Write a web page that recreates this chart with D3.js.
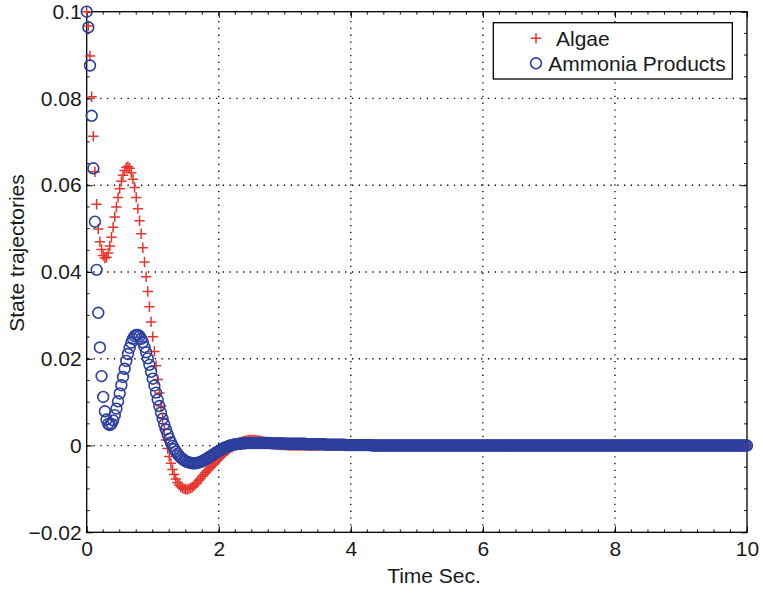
<!DOCTYPE html>
<html>
<head>
<meta charset="utf-8">
<script src="https://cdn.jsdelivr.net/npm/d3@7/dist/d3.min.js"></script>
<style>
  html, body { margin: 0; padding: 0; background: #fff; }
  svg { display: block; }
  text { font-family: "Liberation Sans", Arial, Helvetica, sans-serif; fill: #1a1a1a; }
</style>
</head>
<body>
<svg id="chart" width="763" height="595"></svg>
<script>
// Simulation output sampled every 0.025 s from t = 0 to t = 10 s (401 samples)
const timeStep = 0.025;

const algae = [
  0.1000, 0.0967, 0.0898, 0.0804, 0.0713, 0.0631, 0.0556, 0.0499, 0.0470, 0.0452,
  0.0438, 0.0432, 0.0434, 0.0444, 0.0460, 0.0480, 0.0503, 0.0527, 0.0550, 0.0572,
  0.0592, 0.0609, 0.0623, 0.0634, 0.0641, 0.0643, 0.0639, 0.0629, 0.0614, 0.0595,
  0.0572, 0.0546, 0.0518, 0.0488, 0.0456, 0.0423, 0.0389, 0.0355, 0.0320, 0.0285,
  0.0251, 0.0217, 0.0184, 0.0152, 0.0121, 0.0091, 0.0063, 0.0037, 0.0013, -0.0007,
  -0.0025, -0.0041, -0.0055, -0.0067, -0.0077, -0.0085, -0.0091, -0.0095, -0.0098, -0.0100,
  -0.0101, -0.0101, -0.0100, -0.0098, -0.0096, -0.0093, -0.0089, -0.0085, -0.0080, -0.0076,
  -0.0071, -0.0067, -0.0062, -0.0058, -0.0054, -0.0050, -0.0046, -0.0042, -0.0038, -0.0034,
  -0.0030, -0.0026, -0.0022, -0.0019, -0.0015, -0.0012, -0.0009, -0.0006, -0.0004, -0.0001,
  0.0001, 0.0003, 0.0005, 0.0007, 0.0008, 0.0010, 0.0011, 0.0012, 0.0013, 0.0013,
  0.0013, 0.0013, 0.0013, 0.0012, 0.0012, 0.0011, 0.0010, 0.0009, 0.0008, 0.0007,
  0.0006, 0.0005, 0.0004, 0.0004, 0.0003, 0.0002, 0.0002, 0.0001, 0.0001, 0.0001,
  0.0001, 0.0001, 0, 0, 0, 0, 0, 0, 0, 0, 0, 0, 0, 0, 0, 0, 0, 0, 0, 0,
  0, 0, 0, 0, 0, 0, 0, 0, 0, 0, 0, 0, 0, 0, 0, 0, 0, 0, 0, 0,
  0, 0, 0, 0, 0, 0, 0, 0, 0, 0, 0, 0, 0, 0, 0, 0, 0, 0, 0, 0,
  0, 0, 0, 0, 0, 0, 0, 0, 0, 0, 0, 0, 0, 0, 0, 0, 0, 0, 0, 0,
  0, 0, 0, 0, 0, 0, 0, 0, 0, 0, 0, 0, 0, 0, 0, 0, 0, 0, 0, 0,
  0, 0, 0, 0, 0, 0, 0, 0, 0, 0, 0, 0, 0, 0, 0, 0, 0, 0, 0, 0,
  0, 0, 0, 0, 0, 0, 0, 0, 0, 0, 0, 0, 0, 0, 0, 0, 0, 0, 0, 0,
  0, 0, 0, 0, 0, 0, 0, 0, 0, 0, 0, 0, 0, 0, 0, 0, 0, 0, 0, 0,
  0, 0, 0, 0, 0, 0, 0, 0, 0, 0, 0, 0, 0, 0, 0, 0, 0, 0, 0, 0,
  0, 0, 0, 0, 0, 0, 0, 0, 0, 0, 0, 0, 0, 0, 0, 0, 0, 0, 0, 0,
  0, 0, 0, 0, 0, 0, 0, 0, 0, 0, 0, 0, 0, 0, 0, 0, 0, 0, 0, 0,
  0, 0, 0, 0, 0, 0, 0, 0, 0, 0, 0, 0, 0, 0, 0, 0, 0, 0, 0, 0,
  0, 0, 0, 0, 0, 0, 0, 0, 0, 0, 0, 0, 0, 0, 0, 0, 0, 0, 0, 0,
  0, 0, 0, 0, 0, 0, 0, 0, 0, 0, 0, 0, 0, 0, 0, 0, 0, 0, 0, 0,
  0
];

const ammonia = [
  0.1000, 0.0964, 0.0876, 0.0760, 0.0639, 0.0516, 0.0405, 0.0306, 0.0226, 0.0160,
  0.0112, 0.0079, 0.0060, 0.0050, 0.0047, 0.0050, 0.0058, 0.0070, 0.0085, 0.0102,
  0.0120, 0.0139, 0.0158, 0.0177, 0.0195, 0.0211, 0.0225, 0.0237, 0.0246, 0.0252,
  0.0255, 0.0255, 0.0252, 0.0246, 0.0238, 0.0227, 0.0215, 0.0201, 0.0186, 0.0170,
  0.0154, 0.0138, 0.0122, 0.0106, 0.0091, 0.0076, 0.0062, 0.0049, 0.0037, 0.0026,
  0.0016, 0.0007, -0.0001, -0.0008, -0.0014, -0.0019, -0.0024, -0.0028, -0.0031, -0.0034,
  -0.0036, -0.0038, -0.0039, -0.0040, -0.0041, -0.0041, -0.0041, -0.0040, -0.0039, -0.0038,
  -0.0036, -0.0034, -0.0032, -0.0030, -0.0027, -0.0025, -0.0022, -0.0020, -0.0017, -0.0015,
  -0.0013, -0.0011, -0.0008, -0.0006, -0.0004, -0.0003, -0.0001, 0.0000, 0.0001, 0.0002,
  0.0003, 0.0003, 0.0004, 0.0004, 0.0005, 0.0005, 0.0005, 0.0006, 0.0006, 0.0006,
  0.0006, 0.0006, 0.0006, 0.0006, 0.0006, 0.0006, 0.0006, 0.0006, 0.0006, 0.0006,
  0.0006, 0.0006, 0.0005, 0.0005, 0.0005, 0.0005, 0.0005, 0.0005, 0.0005, 0.0005,
  0.0005, 0.0004, 0.0004, 0.0004, 0.0004, 0.0004, 0.0004, 0.0004, 0.0004, 0.0004,
  0.0004, 0.0004, 0.0004, 0.0003, 0.0003, 0.0003, 0.0003, 0.0003, 0.0003, 0.0003,
  0.0003, 0.0003, 0.0003, 0.0003, 0.0003, 0.0002, 0.0002, 0.0002, 0.0002, 0.0002,
  0.0002, 0.0002, 0.0002, 0.0002, 0.0002, 0.0002, 0.0002, 0.0001, 0.0001, 0.0001,
  0.0001, 0.0001, 0.0001, 0.0001, 0.0001, 0.0001, 0.0001, 0.0001, 0.0001, 0.0001,
  0.0001, 0.0001, 0.0001, 0, 0, 0, 0, 0, 0, 0,
  0, 0, 0, 0, 0, 0, 0, 0, 0, 0, 0, 0, 0, 0, 0, 0, 0, 0, 0, 0,
  0, 0, 0, 0, 0, 0, 0, 0, 0, 0, 0, 0, 0, 0, 0, 0, 0, 0, 0, 0,
  0, 0, 0, 0, 0, 0, 0, 0, 0, 0, 0, 0, 0, 0, 0, 0, 0, 0, 0, 0,
  0, 0, 0, 0, 0, 0, 0, 0, 0, 0, 0, 0, 0, 0, 0, 0, 0, 0, 0, 0,
  0, 0, 0, 0, 0, 0, 0, 0, 0, 0, 0, 0, 0, 0, 0, 0, 0, 0, 0, 0,
  0, 0, 0, 0, 0, 0, 0, 0, 0, 0, 0, 0, 0, 0, 0, 0, 0, 0, 0, 0,
  0, 0, 0, 0, 0, 0, 0, 0, 0, 0, 0, 0, 0, 0, 0, 0, 0, 0, 0, 0,
  0, 0, 0, 0, 0, 0, 0, 0, 0, 0, 0, 0, 0, 0, 0, 0, 0, 0, 0, 0,
  0, 0, 0, 0, 0, 0, 0, 0, 0, 0, 0, 0, 0, 0, 0, 0, 0, 0, 0, 0,
  0, 0, 0, 0, 0, 0, 0, 0, 0, 0, 0, 0, 0, 0, 0, 0, 0, 0, 0, 0,
  0, 0, 0, 0, 0, 0, 0, 0, 0, 0, 0, 0, 0, 0, 0, 0, 0, 0, 0, 0,
  0
];

const xTicks = [0, 2, 4, 6, 8, 10];
const yTicks = [-0.02, 0, 0.02, 0.04, 0.06, 0.08, 0.1];
const yTickLabels = ["\u22120.02", "0", "0.02", "0.04", "0.06", "0.08", "0.1"];
const seriesNames = ["Algae", "Ammonia Products"];

const colors = { algae: "#e6362c", ammonia: "#2b3f9e" };

const svg = d3.select("#chart");
const plotLeft = 86.7, plotRight = 747, plotTop = 11.7, plotBottom = 532.3;

const x = d3.scaleLinear().domain([0, 10]).range([plotLeft, plotRight]);
const y = d3.scaleLinear().domain([-0.02, 0.1]).range([plotBottom, plotTop]);

svg.append("rect").attr("width", 763).attr("height", 595).attr("fill", "#fff");

// dotted grid
const grid = svg.append("g").attr("stroke", "#000").attr("stroke-width", 1.3)
  .attr("stroke-dasharray", "1.3,5.5");
grid.selectAll("line.gx").data(xTicks.filter(d => d > 0 && d < 10)).join("line")
  .attr("class", "gx")
  .attr("x1", d => x(d)).attr("x2", d => x(d))
  .attr("y1", plotBottom).attr("y2", plotTop);
grid.selectAll("line.gy").data(yTicks.filter(d => d > -0.02 && d < 0.1)).join("line")
  .attr("class", "gy")
  .attr("y1", d => y(d)).attr("y2", d => y(d))
  .attr("x1", plotLeft).attr("x2", plotRight);

// axes (ticks point inward, mirrored on the top and right edges)
const xMinor = d3.range(0, 10.0001, 0.25);
const yMinor = d3.range(-0.02, 0.10001, 0.005);

const xAxisB = d3.axisBottom(x).tickValues(xTicks).tickSizeInner(-6).tickSizeOuter(0)
  .tickFormat(d3.format("d"));
const gxb = svg.append("g").attr("transform", `translate(0,${plotBottom})`).call(xAxisB);
gxb.selectAll("text").attr("font-size", 21).attr("dy", "0.71em").attr("y", 9);

const yAxisL = d3.axisLeft(y).tickValues(yTicks).tickSizeInner(-6).tickSizeOuter(0)
  .tickFormat((d, i) => yTickLabels[i]);
const gyl = svg.append("g").attr("transform", `translate(${plotLeft},0)`).call(yAxisL);
gyl.selectAll("text").attr("font-size", 21).attr("x", -5);

svg.append("g").attr("transform", `translate(0,${plotTop})`)
  .call(d3.axisTop(x).tickValues(xTicks).tickSizeInner(-6).tickSizeOuter(0).tickFormat(""));
svg.append("g").attr("transform", `translate(${plotRight},0)`)
  .call(d3.axisRight(y).tickValues(yTicks).tickSizeInner(-6).tickSizeOuter(0).tickFormat(""));

// minor ticks
const minor = svg.append("g").attr("stroke", "#000").attr("stroke-width", 0.9);
[plotBottom, plotTop].forEach((yy, k) => {
  minor.append("g").selectAll("line").data(xMinor).join("line")
    .attr("x1", d => x(d)).attr("x2", d => x(d))
    .attr("y1", yy).attr("y2", k === 0 ? yy - 3 : yy + 3);
});
[plotLeft, plotRight].forEach((xx, k) => {
  minor.append("g").selectAll("line").data(yMinor).join("line")
    .attr("y1", d => y(d)).attr("y2", d => y(d))
    .attr("x1", xx).attr("x2", k === 0 ? xx + 3 : xx - 3);
});

svg.selectAll(".domain").remove();
svg.selectAll(".tick line").attr("stroke", "#000").attr("stroke-width", 1);

// frame
svg.append("rect").attr("x", plotLeft).attr("y", plotTop)
  .attr("width", plotRight - plotLeft).attr("height", plotBottom - plotTop)
  .attr("fill", "none").attr("stroke", "#000").attr("stroke-width", 1.3);

// markers
const plusPath = (cx, cy, s) => `M${cx - s},${cy}H${cx + s}M${cx},${cy - s}V${cy + s}`;

const marks = svg.append("g");
marks.append("g").selectAll("path").data(algae).join("path")
  .attr("d", (v, i) => plusPath(x(i * timeStep), y(v), 5.2))
  .attr("fill", "none").attr("stroke", colors.algae).attr("stroke-width", 1.5);

marks.append("g").selectAll("circle").data(ammonia).join("circle")
  .attr("cx", (v, i) => x(i * timeStep)).attr("cy", v => y(v)).attr("r", 5.4)
  .attr("fill", "none").attr("stroke", colors.ammonia).attr("stroke-width", 1.6);

// axis titles
svg.append("text").attr("x", 434).attr("y", 583).attr("text-anchor", "middle")
  .attr("font-size", 21).text("Time Sec.");
svg.append("text").attr("transform", "translate(24,253) rotate(-90)")
  .attr("text-anchor", "middle").attr("font-size", 21).text("State trajectories");

// legend
const lg = svg.append("g");
lg.append("rect").attr("x", 493.3).attr("y", 22.7).attr("width", 239).attr("height", 56.3)
  .attr("fill", "#fff").attr("stroke", "#000").attr("stroke-width", 1.3);
lg.append("path").attr("d", plusPath(536, 38.3, 5.2))
  .attr("stroke", colors.algae).attr("stroke-width", 1.5).attr("fill", "none");
lg.append("text").attr("x", 556).attr("y", 45.5).attr("font-size", 21).text(seriesNames[0]);
lg.append("circle").attr("cx", 536).attr("cy", 63.3).attr("r", 5.4)
  .attr("fill", "none").attr("stroke", colors.ammonia).attr("stroke-width", 1.6);
lg.append("text").attr("x", 548.3).attr("y", 70.7).attr("font-size", 21).text(seriesNames[1]);
</script>
</body>
</html>
